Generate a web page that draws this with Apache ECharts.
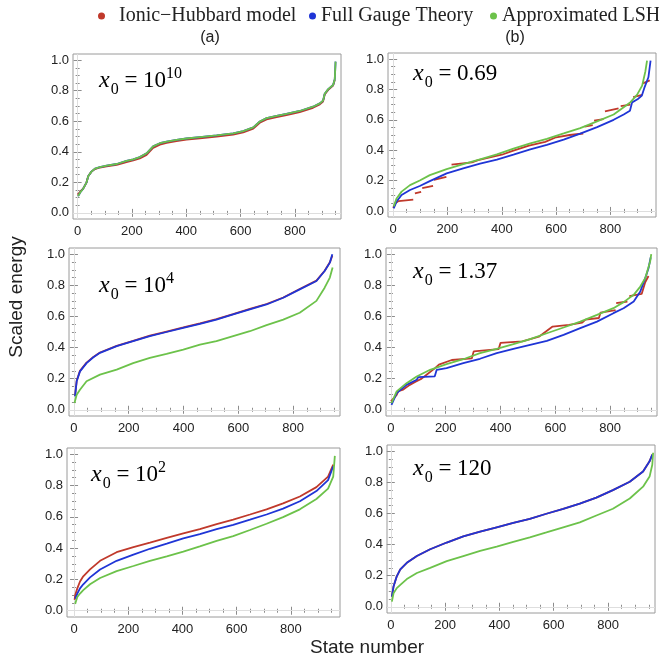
<!DOCTYPE html>
<html>
<head>
<meta charset="utf-8">
<script src="https://cdn.jsdelivr.net/npm/echarts@6/dist/echarts.min.js"></script>
<style>
  html, body { margin: 0; padding: 0; background: #fff; }
  #chart { width: 659px; height: 662px; }
</style>
</head>
<body>
<div id="chart"></div>
<script>
// series names and tick values
const seriesNames = ['Ionic\u2212Hubbard model', 'Full Gauge Theory', 'Approximated LSH']
const xTicks = [0, 200, 400, 600, 800]
const xMinorTicks = [50, 100, 150, 250, 300, 350, 450, 500, 550, 650, 700, 750, 850, 900, 950]
const yTicks = [0, 0.2, 0.4, 0.6, 0.8, 1.0]
const yMinorTicks = [0.05, 0.1, 0.15, 0.25, 0.3, 0.35, 0.45, 0.5, 0.55, 0.65, 0.7, 0.75, 0.85, 0.9, 0.95]

// panel labels: x0 = base^exp
const panelBase = ['10', '0.69', '10', '1.37', '10', '120']
const panelExp = ['10', '', '4', '', '2', '']

// [state number, scaled energy]; null = gap between plateaus
const p1Red = [[0,0.12],[10,0.14],[21,0.16],[33,0.2],[39,0.24],[51,0.27],[64,0.287],[82,0.297],[107,0.305],[144,0.315],[180,0.333],[205,0.343],[229,0.357],[254,0.38],[278,0.425],[303,0.447],[328,0.458],[364,0.47],[401,0.479],[450,0.488],[512,0.5],[573,0.513],[610,0.527],[647,0.552],[671,0.59],[696,0.612],[733,0.627],[769,0.64],[818,0.66],[867,0.688],[892,0.71],[904,0.728],[910,0.775],[923,0.805],[941,0.833],[947,0.87]]
const p1Green = [[2,0.11],[10,0.135],[21,0.16],[33,0.2],[39,0.24],[51,0.27],[64,0.29],[82,0.3],[107,0.31],[144,0.32],[180,0.34],[205,0.35],[229,0.365],[254,0.39],[278,0.435],[303,0.456],[328,0.467],[364,0.478],[401,0.487],[450,0.496],[512,0.507],[573,0.52],[610,0.535],[647,0.56],[671,0.598],[696,0.62],[733,0.635],[769,0.648],[818,0.667],[867,0.695],[892,0.717],[904,0.735],[910,0.78],[923,0.81],[941,0.837],[947,0.875],[950,0.99]]
const p1Blue = p1Green // hidden under the LSH curve

const p2Red = [[0,0.02],[8,0.05],[20,0.065],[74,0.075],null,[80,0.115],[103,0.125],null,[107,0.15],[147,0.165],null,[150,0.205],[196,0.225],null,[215,0.305],[290,0.32],[313,0.335],[360,0.355],[400,0.37],[440,0.395],[500,0.43],[560,0.455],[600,0.485],[650,0.5],[700,0.51],null,[705,0.555],[735,0.565],null,[740,0.595],[775,0.605],null,[780,0.655],[830,0.675],null,[838,0.69],[874,0.7],null,[884,0.75],[917,0.765],null,[920,0.84],[945,0.86]]
const p2Blue = [[2,0.017],[12,0.06],[31,0.105],[62,0.138],[98,0.164],[135,0.196],[197,0.247],[258,0.28],[320,0.312],[382,0.338],[443,0.371],[505,0.405],[566,0.435],[628,0.47],[689,0.509],[751,0.552],[812,0.6],[849,0.635],[872,0.66],[880,0.715],[900,0.735],[916,0.76],[925,0.81],[940,0.88],[948,0.99]]
const p2Green = [[2,0.03],[12,0.08],[31,0.127],[62,0.17],[98,0.2],[135,0.236],[197,0.275],[258,0.308],[320,0.34],[382,0.372],[443,0.41],[505,0.445],[566,0.475],[628,0.51],[689,0.545],[751,0.59],[812,0.635],[849,0.683],[874,0.716],[898,0.764],[917,0.825],[929,0.92],[935,0.99]]

const p3Red = [[4,0.09],[10,0.186],[22,0.25],[46,0.303],[71,0.34],[95,0.368],[156,0.411],[216,0.443],[277,0.476],[338,0.503],[399,0.529],[460,0.556],[520,0.583],[581,0.615],[642,0.648],[703,0.68],[764,0.722],[824,0.776],[885,0.83],[915,0.894],[934,0.948],[943,0.99]]
const p3Blue = [[4,0.086],[10,0.183],[22,0.247],[46,0.3],[71,0.338],[95,0.366],[156,0.409],[216,0.441],[277,0.473],[338,0.5],[399,0.527],[460,0.553],[520,0.58],[581,0.613],[642,0.645],[703,0.677],[764,0.72],[824,0.774],[885,0.828],[915,0.892],[934,0.946],[943,1.0]]
const p3Green = [[2,0.043],[10,0.097],[22,0.129],[46,0.183],[95,0.226],[156,0.258],[216,0.3],[277,0.333],[338,0.359],[399,0.387],[460,0.419],[520,0.441],[581,0.473],[642,0.505],[703,0.544],[764,0.58],[824,0.624],[885,0.7],[915,0.785],[934,0.85],[944,0.914]]

const p4Red = [[0,0.054],[21,0.096],[27,0.12],[45,0.13],[69,0.16],[90,0.18],[112,0.2],[130,0.225],[161,0.268],[175,0.29],[222,0.32],[295,0.33],[302,0.375],[393,0.39],[400,0.43],[480,0.44],[540,0.47],[590,0.535],[650,0.546],[698,0.56],[710,0.58],[759,0.59],[765,0.625],[820,0.64],null,[822,0.685],[863,0.696],null,[870,0.73],[915,0.745],[928,0.82],[940,0.86]]
const p4Blue = [[2,0.032],[21,0.107],[57,0.16],[94,0.193],[100,0.21],[160,0.215],[167,0.257],[203,0.268],[264,0.3],[325,0.328],[386,0.364],[447,0.392],[508,0.418],[569,0.443],[630,0.482],[691,0.525],[752,0.567],[812,0.621],[849,0.653],[886,0.696],[910,0.76],[928,0.846],[940,0.91],[948,0.98]]
const p4Green = [[2,0.043],[21,0.118],[57,0.171],[94,0.214],[143,0.257],[203,0.293],[264,0.325],[325,0.364],[386,0.392],[447,0.422],[508,0.454],[569,0.492],[630,0.529],[691,0.567],[752,0.61],[812,0.653],[849,0.692],[886,0.739],[910,0.792],[928,0.846],[946,0.953],[950,1.0]]

const p5Red = [[2,0.07],[4,0.099],[12,0.143],[22,0.187],[34,0.22],[59,0.264],[96,0.319],[157,0.374],[219,0.407],[280,0.435],[342,0.466],[403,0.495],[464,0.521],[526,0.554],[587,0.582],[649,0.615],[710,0.648],[771,0.686],[833,0.73],[894,0.79],[937,0.857],[956,0.934]]
const p5Blue = [[4,0.077],[12,0.11],[22,0.143],[34,0.169],[59,0.213],[96,0.264],[157,0.319],[219,0.358],[280,0.396],[342,0.429],[403,0.462],[464,0.49],[526,0.521],[587,0.549],[649,0.582],[710,0.615],[771,0.653],[833,0.7],[894,0.765],[937,0.835],[956,0.923]]
const p5Green = [[4,0.044],[12,0.088],[22,0.11],[34,0.132],[59,0.169],[96,0.209],[157,0.253],[219,0.286],[280,0.319],[342,0.347],[403,0.378],[464,0.411],[526,0.446],[587,0.477],[649,0.516],[710,0.556],[771,0.598],[833,0.648],[894,0.714],[937,0.78],[956,0.857],[962,0.99]]

const p6Blue = [[4,0.065],[10,0.13],[22,0.196],[35,0.24],[59,0.283],[96,0.326],[145,0.37],[206,0.413],[267,0.452],[329,0.483],[390,0.511],[451,0.539],[512,0.565],[573,0.598],[635,0.63],[696,0.663],[757,0.702],[818,0.75],[880,0.804],[929,0.87],[953,0.935],[963,0.978]]
const p6Red = p6Blue // coincides with the full gauge theory curve
const p6Green = [[4,0.033],[10,0.087],[22,0.12],[35,0.141],[59,0.178],[96,0.217],[145,0.25],[206,0.293],[267,0.326],[329,0.359],[390,0.387],[451,0.417],[512,0.446],[573,0.478],[635,0.511],[696,0.543],[757,0.587],[818,0.63],[880,0.696],[929,0.772],[953,0.837],[963,0.913],[966,0.99]]

const panelData = [
  [p1Red, p1Blue, p1Green],
  [p2Red, p2Blue, p2Green],
  [p3Red, p3Blue, p3Green],
  [p4Red, p4Blue, p4Green],
  [p5Red, p5Blue, p5Green],
  [p6Red, p6Blue, p6Green],
]

// layout of the six frames
const panels = [
  { left: 73, top: 54, width: 268, height: 165, xMin: -17, xMax: 970, label: [99, 63] },
  { left: 388, top: 53, width: 268, height: 164, xMin: -19, xMax: 968, label: [413, 62] },
  { left: 69, top: 248, width: 271, height: 168, xMin: -18, xMax: 971, label: [99, 268] },
  { left: 386, top: 248, width: 271, height: 168, xMin: -18, xMax: 971, label: [413, 260] },
  { left: 67, top: 448, width: 273, height: 169, xMin: -26, xMax: 981, label: [91, 457] },
  { left: 387, top: 445, width: 268, height: 168, xMin: -14, xMax: 973, label: [413, 457] },
]
const yMin = -0.04
const yMax = 1.04

const colors = ['#c0392b', '#1f35d6', '#6cc24a']
const sansFont = 'Liberation Sans'
const serifFont = 'Liberation Serif'

const withGaps = (pts) => pts.map((p, i) => (p === null ? [pts[i - 1][0], '-'] : p))

const tickStyle = { color: '#8c8c8c', width: 1 }

const makeX = (gi, p, position, ticks, len, labels) => ({
  gridIndex: gi,
  type: 'value',
  min: p.xMin,
  max: p.xMax,
  position,
  axisLine: { show: false },
  splitLine: { show: false },
  axisTick: { show: true, inside: true, length: len, customValues: ticks, lineStyle: tickStyle },
  axisLabel: labels
    ? { show: true, customValues: ticks, fontFamily: sansFont, fontSize: 13, color: '#222', margin: 6 }
    : { show: false },
})

const makeY = (gi, position, ticks, len, labels) => ({
  gridIndex: gi,
  type: 'value',
  min: yMin,
  max: yMax,
  position,
  axisLine: { show: false },
  splitLine: { show: false },
  axisTick: { show: true, inside: true, length: len, customValues: ticks, lineStyle: tickStyle },
  axisLabel: labels
    ? {
        show: true,
        customValues: ticks,
        formatter: (v) => v.toFixed(1),
        fontFamily: sansFont,
        fontSize: 13,
        color: '#222',
        margin: 4,
      }
    : { show: false },
})

const grids = []
const xAxes = []
const yAxes = []
const series = []
const graphics = []

const rich = {
  x: { fontFamily: serifFont, fontStyle: 'italic', fontSize: 24, lineHeight: 36, color: '#111' },
  sub: { fontFamily: serifFont, fontSize: 16, lineHeight: 16, verticalAlign: 'bottom', padding: [0, 0, 1, 1], color: '#111' },
  eq: { fontFamily: serifFont, fontSize: 23, lineHeight: 36, color: '#111' },
  sup: { fontFamily: serifFont, fontSize: 16, lineHeight: 16, verticalAlign: 'top', padding: [3, 0, 0, 0], color: '#111' },
}

panels.forEach((p, gi) => {
  grids.push({
    left: p.left,
    top: p.top,
    width: p.width,
    height: p.height,
    show: true,
    borderColor: '#9a9a9a',
    borderWidth: 1,
    backgroundColor: '#fff',
    outerBoundsMode: 'none',
  })

  const xBase = xAxes.length
  xAxes.push(makeX(gi, p, 'bottom', xTicks, 4, true))
  xAxes.push(makeX(gi, p, 'bottom', xMinorTicks, 2, false))
  xAxes.push(makeX(gi, p, 'top', xTicks, 4, false))
  xAxes.push(makeX(gi, p, 'top', xMinorTicks, 2, false))

  const yBase = yAxes.length
  yAxes.push(makeY(gi, 'left', yTicks, 4, true))
  yAxes.push(makeY(gi, 'left', yMinorTicks, 2, false))
  yAxes.push(makeY(gi, 'right', yTicks, 4, false))
  yAxes.push(makeY(gi, 'right', yMinorTicks, 2, false))

  panelData[gi].forEach((pts, si) => {
    const s = {
      name: seriesNames[si],
      type: 'line',
      xAxisIndex: xBase,
      yAxisIndex: yBase,
      data: withGaps(pts),
      showSymbol: false,
      connectNulls: false,
      color: colors[si],
      lineStyle: { width: 1.8, color: colors[si] },
      silent: true,
      z: 3 + si,
    }
    if (si === 0) {
      s.markLine = {
        silent: true,
        symbol: 'none',
        label: { show: false },
        lineStyle: { color: '#dedede', width: 1, type: 'solid' },
        data: [{ xAxis: 0 }, { yAxis: 0 }],
        z: 1,
      }
    }
    series.push(s)
  })

  const exp = panelExp[gi] ? `{sup|${panelExp[gi]}}` : ''
  graphics.push({
    type: 'text',
    left: p.label[0],
    top: p.label[1],
    z: 10,
    style: { text: `{x|x}{sub|0}{eq| = ${panelBase[gi]}}${exp}`, rich },
  })
})

graphics.push(
  { type: 'text', x: 210, y: 38, style: { text: '(a)', fontFamily: sansFont, fontSize: 16, fill: '#222', align: 'center', verticalAlign: 'middle' } },
  { type: 'text', x: 515, y: 38, style: { text: '(b)', fontFamily: sansFont, fontSize: 16, fill: '#222', align: 'center', verticalAlign: 'middle' } },
  { type: 'text', x: 367, y: 648, style: { text: 'State number', fontFamily: sansFont, fontSize: 19, fill: '#222', align: 'center', verticalAlign: 'middle' } },
  {
    type: 'text',
    x: 17,
    y: 297,
    rotation: Math.PI / 2,
    style: { text: 'Scaled energy', fontFamily: sansFont, fontSize: 19, fill: '#222', align: 'center', verticalAlign: 'middle' },
  }
)

const legendBase = {
  icon: 'circle',
  itemWidth: 7,
  itemHeight: 7,
  top: 1,
  selectedMode: false,
  textStyle: { fontFamily: serifFont, fontSize: 20, color: '#222' },
}

const option = {
  animation: false,
  backgroundColor: '#fff',
  legend: [
    { ...legendBase, left: 93, data: [seriesNames[0]], textStyle: { ...legendBase.textStyle, padding: [0, 0, 0, 9] } },
    { ...legendBase, left: 304, data: [seriesNames[1]] },
    { ...legendBase, left: 485, data: [seriesNames[2]] },
  ],
  grid: grids,
  xAxis: xAxes,
  yAxis: yAxes,
  series,
  graphic: graphics,
}

const myChart = echarts.init(document.getElementById('chart'))
myChart.setOption(option)

window.addEventListener('resize', () => {
  myChart.resize()
})
</script>
</body>
</html>
